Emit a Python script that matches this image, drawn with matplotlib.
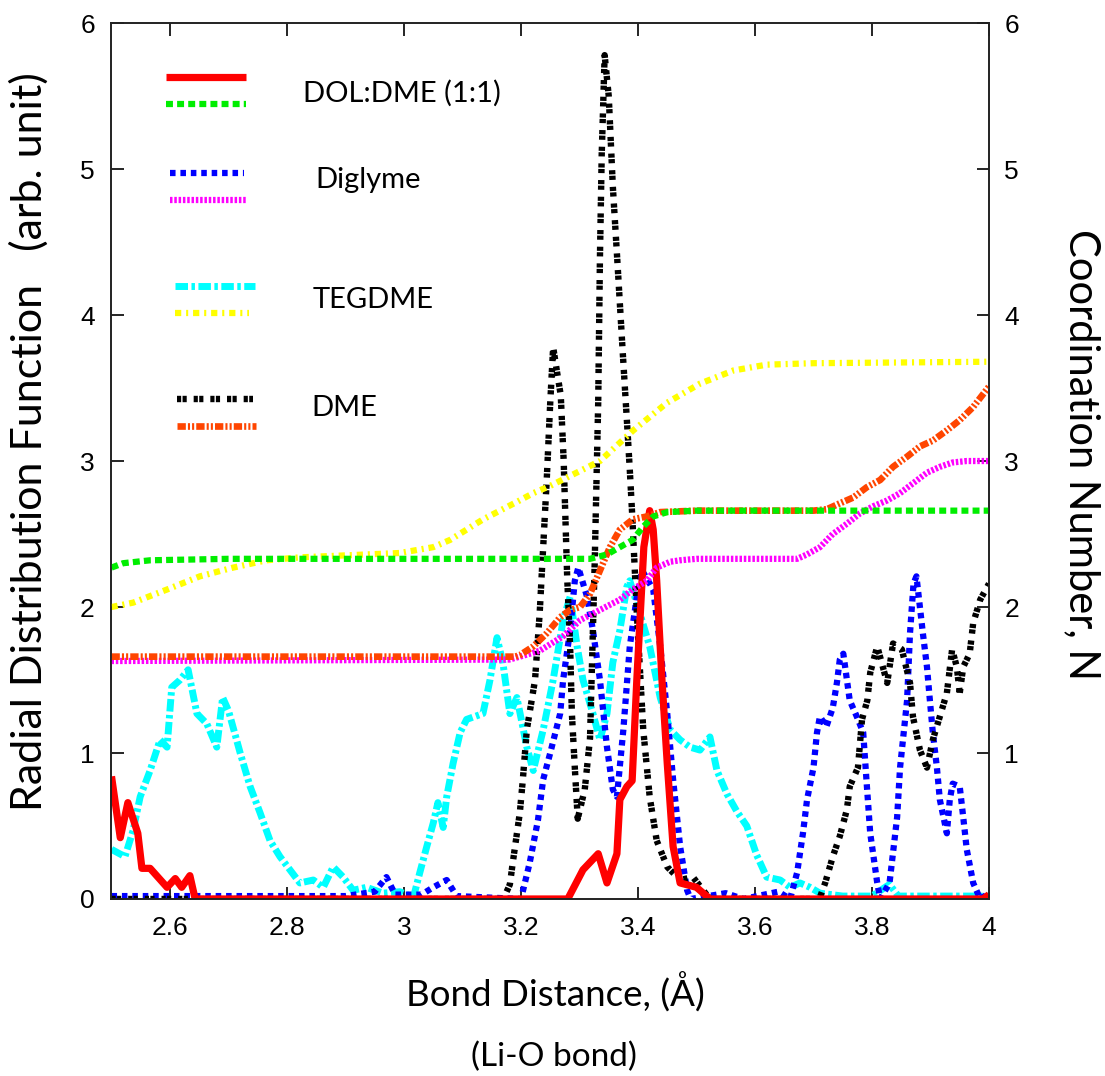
import matplotlib
matplotlib.use("Agg")
import matplotlib.pyplot as plt

plt.rcParams['lines.scale_dashes'] = False
plt.rcParams['font.family'] = ['Liberation Sans', 'DejaVu Sans']

# RDF curves (left axis)
dol_x = [2.5, 2.515, 2.528, 2.545, 2.552, 2.566, 2.595, 2.609, 2.62, 2.634, 2.643, 3.0, 3.28, 3.306,
         3.332, 3.347, 3.364, 3.369, 3.381, 3.39, 3.398, 3.41, 3.42, 3.426, 3.432, 3.441, 3.45, 3.46,
         3.472, 3.5, 3.523, 3.8, 3.99, 4.0]
dol_y = [0.84, 0.42, 0.66, 0.45, 0.21, 0.21, 0.08, 0.14, 0.08, 0.16, 0.0, 0.0, 0.0, 0.2,
         0.31, 0.11, 0.31, 0.68, 0.77, 0.81, 1.5, 2.41, 2.66, 2.53, 2.18, 1.5, 0.93, 0.36,
         0.11, 0.08, 0.0, 0.0, 0.0, 0.03]

dme_x = [2.5, 3.0, 3.17, 3.181, 3.186, 3.198, 3.203, 3.21, 3.224, 3.232, 3.244, 3.25, 3.255, 3.262,
         3.268, 3.273, 3.276, 3.279, 3.284, 3.287, 3.292, 3.297, 3.309, 3.318, 3.326, 3.332, 3.335,
         3.338, 3.343, 3.35, 3.357, 3.364, 3.369, 3.374, 3.381, 3.386, 3.39, 3.398, 3.409, 3.42,
         3.432, 3.45, 3.472, 3.494, 3.523, 3.71, 3.72, 3.733, 3.745, 3.757, 3.762, 3.776, 3.783,
         3.792, 3.797, 3.809, 3.826, 3.836, 3.851, 3.865, 3.87, 3.882, 3.894, 3.904, 3.916, 3.928,
         3.937, 3.945, 3.95, 3.956, 3.967, 3.973, 3.985, 4.0]
dme_y = [0.0, 0.0, 0.0, 0.1, 0.25, 0.59, 0.81, 1.16, 1.5, 1.96, 2.87, 3.4, 3.78, 3.6,
         3.45, 3.0, 2.6, 2.2, 1.73, 1.27, 0.9, 0.55, 0.75, 1.1, 2.3, 3.4, 4.4,
         5.1, 5.78, 5.5, 4.88, 4.42, 4.08, 3.74, 3.28, 2.94, 2.64, 1.96, 1.16, 0.7,
         0.4, 0.22, 0.13, 0.15, 0.0, 0.0, 0.11, 0.29, 0.43, 0.61, 0.77, 0.9, 1.23,
         1.36, 1.55, 1.73, 1.48, 1.75, 1.71, 1.48, 1.25, 1.02, 0.9, 1.09, 1.25, 1.41,
         1.71, 1.59, 1.41, 1.59, 1.68, 1.89, 2.05, 2.16]

dig_x = [2.5, 2.9, 2.95, 2.97, 2.985, 3.03, 3.05, 3.073, 3.09, 3.2, 3.215, 3.229, 3.238, 3.25,
         3.267, 3.272, 3.284, 3.292, 3.298, 3.313, 3.323, 3.335, 3.347, 3.357, 3.364, 3.375, 3.386,
         3.398, 3.407, 3.426, 3.438, 3.45, 3.46, 3.472, 3.484, 3.49, 3.55, 3.58, 3.64, 3.66, 3.672,
         3.682, 3.689, 3.7, 3.706, 3.711, 3.722, 3.733, 3.74, 3.745, 3.751, 3.762, 3.774, 3.785,
         3.791, 3.797, 3.809, 3.814, 3.83, 3.843, 3.848, 3.86, 3.865, 3.871, 3.876, 3.887, 3.894,
         3.899, 3.904, 3.911, 3.916, 3.928, 3.933, 3.938, 3.95, 3.956, 3.962, 3.973, 3.985, 4.0]
dig_y = [0.02, 0.02, 0.05, 0.15, 0.03, 0.03, 0.08, 0.13, 0.02, 0.0, 0.25, 0.54, 0.82, 1.0,
         1.27, 1.5, 1.84, 2.18, 2.27, 2.07, 1.84, 1.5, 1.04, 0.75, 0.7, 1.16, 1.73,
         2.07, 2.25, 2.12, 1.73, 1.27, 0.82, 0.36, 0.06, 0.0, 0.04, 0.0, 0.05, 0.0, 0.18,
         0.45, 0.68, 0.9, 1.14, 1.25, 1.18, 1.31, 1.48, 1.64, 1.68, 1.36, 1.25, 1.14,
         0.79, 0.45, 0.11, 0.0, 0.11, 0.56, 0.9, 1.36, 1.82, 2.16, 2.21, 1.82, 1.59,
         1.36, 1.14, 0.9, 0.68, 0.45, 0.68, 0.79, 0.77, 0.56, 0.34, 0.11, 0.0, 0.04]

teg_x = [2.5, 2.523, 2.537, 2.549, 2.566, 2.583, 2.595, 2.603, 2.617, 2.631, 2.646, 2.663, 2.68, 2.69,
         2.7, 2.72, 2.737, 2.754, 2.771, 2.788, 2.805, 2.822, 2.845, 2.862, 2.879, 2.896, 2.913,
         2.936, 2.964, 2.993, 3.016, 3.027, 3.039, 3.05, 3.058, 3.067, 3.073, 3.084, 3.096, 3.107,
         3.135, 3.147, 3.159, 3.169, 3.181, 3.193, 3.21, 3.221, 3.238, 3.255, 3.272, 3.284, 3.296,
         3.306, 3.323, 3.335, 3.347, 3.357, 3.369, 3.381, 3.386, 3.403, 3.42, 3.438, 3.455, 3.472,
         3.489, 3.506, 3.523, 3.535, 3.552, 3.569, 3.586, 3.603, 3.62, 3.643, 3.66, 3.677, 3.694,
         3.711, 3.75, 3.8, 3.83, 3.845, 4.0]
teg_y = [0.34, 0.29, 0.47, 0.7, 0.88, 1.09, 1.04, 1.45, 1.5, 1.57, 1.27, 1.2, 1.04, 1.38,
         1.29, 1.0, 0.77, 0.59, 0.4, 0.29, 0.2, 0.11, 0.13, 0.08, 0.22, 0.15, 0.06,
         0.08, 0.04, 0.05, 0.01, 0.18, 0.36, 0.52, 0.66, 0.49, 0.7, 0.93, 1.14, 1.23,
         1.27, 1.5, 1.79, 1.62, 1.27, 1.38, 1.04, 0.88, 1.16, 1.5, 1.91, 2.07, 1.73,
         1.5, 1.27, 1.09, 1.27, 1.62, 1.84, 2.14, 2.18, 1.96, 1.73, 1.38, 1.16, 1.09,
         1.04, 1.02, 1.11, 0.88, 0.72, 0.6, 0.5, 0.3, 0.15, 0.13, 0.08, 0.11, 0.08,
         0.04, 0.02, 0.02, 0.1, 0.02, 0.02]

# coordination numbers (right axis)
dol_cn_x = [2.5, 2.52, 2.566, 2.7, 3.318, 3.347, 3.369, 3.391, 3.409, 3.426, 3.45, 3.5, 4.0]
dol_cn_y = [2.27, 2.3, 2.32, 2.33, 2.33, 2.36, 2.41, 2.46, 2.55, 2.62, 2.65, 2.66, 2.66]

dme_cn_x = [2.5, 3.19, 3.198, 3.221, 3.244, 3.267, 3.284, 3.301, 3.318, 3.335, 3.352, 3.369, 3.391,
            3.415, 3.438, 3.5, 3.7, 3.723, 3.745, 3.768, 3.791, 3.814, 3.836, 3.86, 3.882, 3.904,
            3.928, 3.95, 3.973, 4.0]
dme_cn_y = [1.66, 1.66, 1.67, 1.73, 1.82, 1.93, 1.98, 2.0, 2.09, 2.25, 2.41, 2.53, 2.6,
            2.62, 2.65, 2.66, 2.66, 2.67, 2.71, 2.75, 2.82, 2.87, 2.96, 3.03, 3.1, 3.14,
            3.21, 3.28, 3.37, 3.51]

dig_cn_x = [2.5, 3.18, 3.198, 3.232, 3.272, 3.301, 3.335, 3.369, 3.391, 3.415, 3.432, 3.455, 3.472,
            3.5, 3.672, 3.689, 3.711, 3.733, 3.757, 3.779, 3.802, 3.826, 3.848, 3.871, 3.894, 3.916,
            3.938, 3.962, 4.0]
dig_cn_y = [1.63, 1.64, 1.66, 1.7, 1.8, 1.91, 1.98, 2.05, 2.12, 2.18, 2.27, 2.31, 2.32,
            2.33, 2.33, 2.36, 2.41, 2.5, 2.57, 2.64, 2.69, 2.73, 2.78, 2.85, 2.92, 2.96,
            2.99, 3.0, 3.0]

teg_cn_x = [2.5, 2.537, 2.595, 2.651, 2.708, 2.765, 2.822, 2.879, 2.936, 2.993, 3.05, 3.079, 3.107,
            3.135, 3.164, 3.193, 3.221, 3.25, 3.335, 3.392, 3.45, 3.506, 3.563, 3.62, 3.7, 4.0]
teg_cn_y = [2.0, 2.03, 2.12, 2.21, 2.27, 2.32, 2.34, 2.35, 2.36, 2.37, 2.41, 2.46, 2.53,
            2.6, 2.66, 2.72, 2.78, 2.83, 3.0, 3.21, 3.4, 3.53, 3.62, 3.66, 3.67, 3.68]

# line styles, dashes in points
st_dol = dict(color='#ff0000', lw=5.2, solid_capstyle='butt')
st_dol_cn = dict(color='#00ee00', lw=4.5, dashes=(5, 3))
st_dig = dict(color='#0000ff', lw=4.5, dashes=(4, 3.5))
st_dig_cn = dict(color='#ff00ff', lw=4.5, dashes=(1.8, 1.3))
st_teg = dict(color='#00ffff', lw=5.0, dashes=(9, 2.5, 2.5, 2.5))
st_teg_cn = dict(color='#ffff00', lw=4.5, dashes=(4.5, 3.5, 1.5, 3.5))
st_dme = dict(color='#000000', lw=4.6, dashes=(3, 1, 3, 5))
st_dme_cn = dict(color='#ff4500', lw=4.8, dashes=(6, 1.5, 1.5, 1.5, 1.5, 1.5))

fig = plt.figure(figsize=(11.05, 10.76), dpi=100)
ax = fig.add_axes([0.1009, 0.1645, 0.7941, 0.8141])
ax2 = ax.twinx()

ax.plot(teg_x, teg_y, **st_teg)
ax.plot(dig_x, dig_y, **st_dig)
ax.plot(dme_x, dme_y, **st_dme)
ax.plot(dol_x, dol_y, **st_dol)

ax2.plot(teg_cn_x, teg_cn_y, **st_teg_cn)
ax2.plot(dig_cn_x, dig_cn_y, **st_dig_cn)
ax2.plot(dme_cn_x, dme_cn_y, **st_dme_cn)
ax2.plot(dol_cn_x, dol_cn_y, **st_dol_cn)

ax.set_xlim(2.5, 4)
ax.set_ylim(0, 6)
ax2.set_ylim(0, 6)
ax.set_xticks([2.6, 2.8, 3.0, 3.2, 3.4, 3.6, 3.8, 4.0])
ax.set_xticklabels(['2.6', '2.8', '3', '3.2', '3.4', '3.6', '3.8', '4'])
ax.set_yticks([0, 1, 2, 3, 4, 5, 6])
ax2.set_yticks([1, 2, 3, 4, 5, 6])

for a in (ax, ax2):
    for s in a.spines.values():
        s.set_linewidth(1.2)
        s.set_color('#222222')
ax.tick_params(axis='both', direction='in', length=9, width=1.2, labelsize=19, top=True)
ax.tick_params(axis='x', pad=12)
ax.tick_params(axis='y', pad=12)
ax2.tick_params(axis='y', direction='in', length=9, width=1.2, labelsize=19, pad=11)

# hand made legend, two line samples per label
lab_font = dict(family=['Lato', 'DejaVu Sans'], color='black')
legend = [(st_dol, 0.062, 0.153, 0.938, st_dol_cn, 0.062, 0.153, 0.908, 'DOL:DME (1:1)', 0.218, 0.920),
          (st_dig, 0.067, 0.151, 0.829, st_dig_cn, 0.067, 0.153, 0.798, 'Diglyme', 0.232, 0.821),
          (st_teg, 0.072, 0.163, 0.700, st_teg_cn, 0.072, 0.157, 0.669, 'TEGDME', 0.229, 0.684),
          (st_dme, 0.075, 0.161, 0.571, st_dme_cn, 0.075, 0.165, 0.540, 'DME', 0.228, 0.560)]
for s1, a1, b1, y1, s2, a2, b2, y2, txt, tx, ty in legend:
    ax2.plot([a1, b1], [y1, y1], transform=ax.transAxes, clip_on=False, **s1)
    ax2.plot([a2, b2], [y2, y2], transform=ax.transAxes, clip_on=False, **s2)
    ax2.text(tx, ty, txt, transform=ax.transAxes, fontsize=21, va='center', ha='left', **lab_font)

# axis titles
ax.text(-0.094, 0.522, 'Radial Distribution Function   (arb. unit)', transform=ax.transAxes,
        rotation=90, ha='center', va='center', fontsize=31, **lab_font)
ax.text(1.106, 0.507, 'Coordination Number, N', transform=ax.transAxes,
        rotation=270, ha='center', va='center', fontsize=30, **lab_font)
ax.text(0.506, -0.107, 'Bond Distance, (Å)', transform=ax.transAxes,
        ha='center', va='center', fontsize=26.5, **lab_font)
ax.text(0.504, -0.18, '(Li-O bond)', transform=ax.transAxes,
        ha='center', va='center', fontsize=24, **lab_font)

plt.savefig('out.png', dpi=100)
plt.close('all')
